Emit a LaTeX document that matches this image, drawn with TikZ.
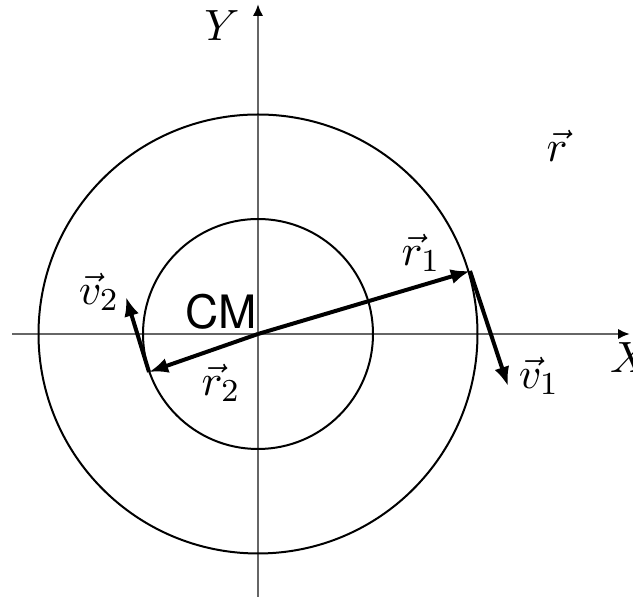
\documentclass[tikz,border=0pt]{standalone}
\usepackage{fontspec}
\newfontfamily\cmsans{TeX Gyre Heros}
\usetikzlibrary{arrows.meta}
\begin{document}
\begin{tikzpicture}[x=0.25pt,y=-0.25pt,
  axis/.style={black!60,line width=0.7pt,-{Latex[length=3pt,width=2.6pt,black]}},
  circ/.style={black,line width=0.5pt},
  vecarrow/.style={black,line width=1pt,-{Latex[length=4.8pt,width=3.8pt]}},
  lbl/.style={inner sep=0pt,font=\fontsize{11}{13}\selectfont}]
\useasboundingbox (0,0) rectangle (633,597);
\coordinate (O) at (258,334);
\coordinate (xl) at (12,334);
\coordinate (xr) at (630,334);
\coordinate (yb) at (258,600);
\coordinate (yt) at (258,4);
\draw[axis] (xl) -- (xr);
\draw[axis] (yb) -- (yt);
\draw[circ] (O) circle[radius=219.5];
\draw[circ] (O) circle[radius=115];
\coordinate (A) at (470,271);
\coordinate (B) at (149,372);
\coordinate (V1) at (508,386);
\coordinate (V2) at (126,297);
\draw[vecarrow] (O) -- (A);
\draw[vecarrow] (O) -- (B);
\draw[vecarrow] (A) -- (V1);
\draw[vecarrow] (B) -- (V2);
\node[lbl] (ly) at (222,26) {$Y$};
\node[lbl] (lx) at (630,358) {$X$};
\node[lbl] (lr) at (557,146) {$\vec{r}$};
\node[lbl] (lr1) at (421,253) {$\vec{r}_1$};
\node[lbl] (lr2) at (221,383) {$\vec{r}_2$};
\node[lbl] (lv1) at (539,376) {$\vec{v}_1$};
\node[lbl] (lv2) at (99,292) {$\vec{v}_2$};
\node[lbl,font=\fontsize{11.5}{13}\selectfont\cmsans] (cm) at (221,312) {CM};
\end{tikzpicture}
\end{document}
